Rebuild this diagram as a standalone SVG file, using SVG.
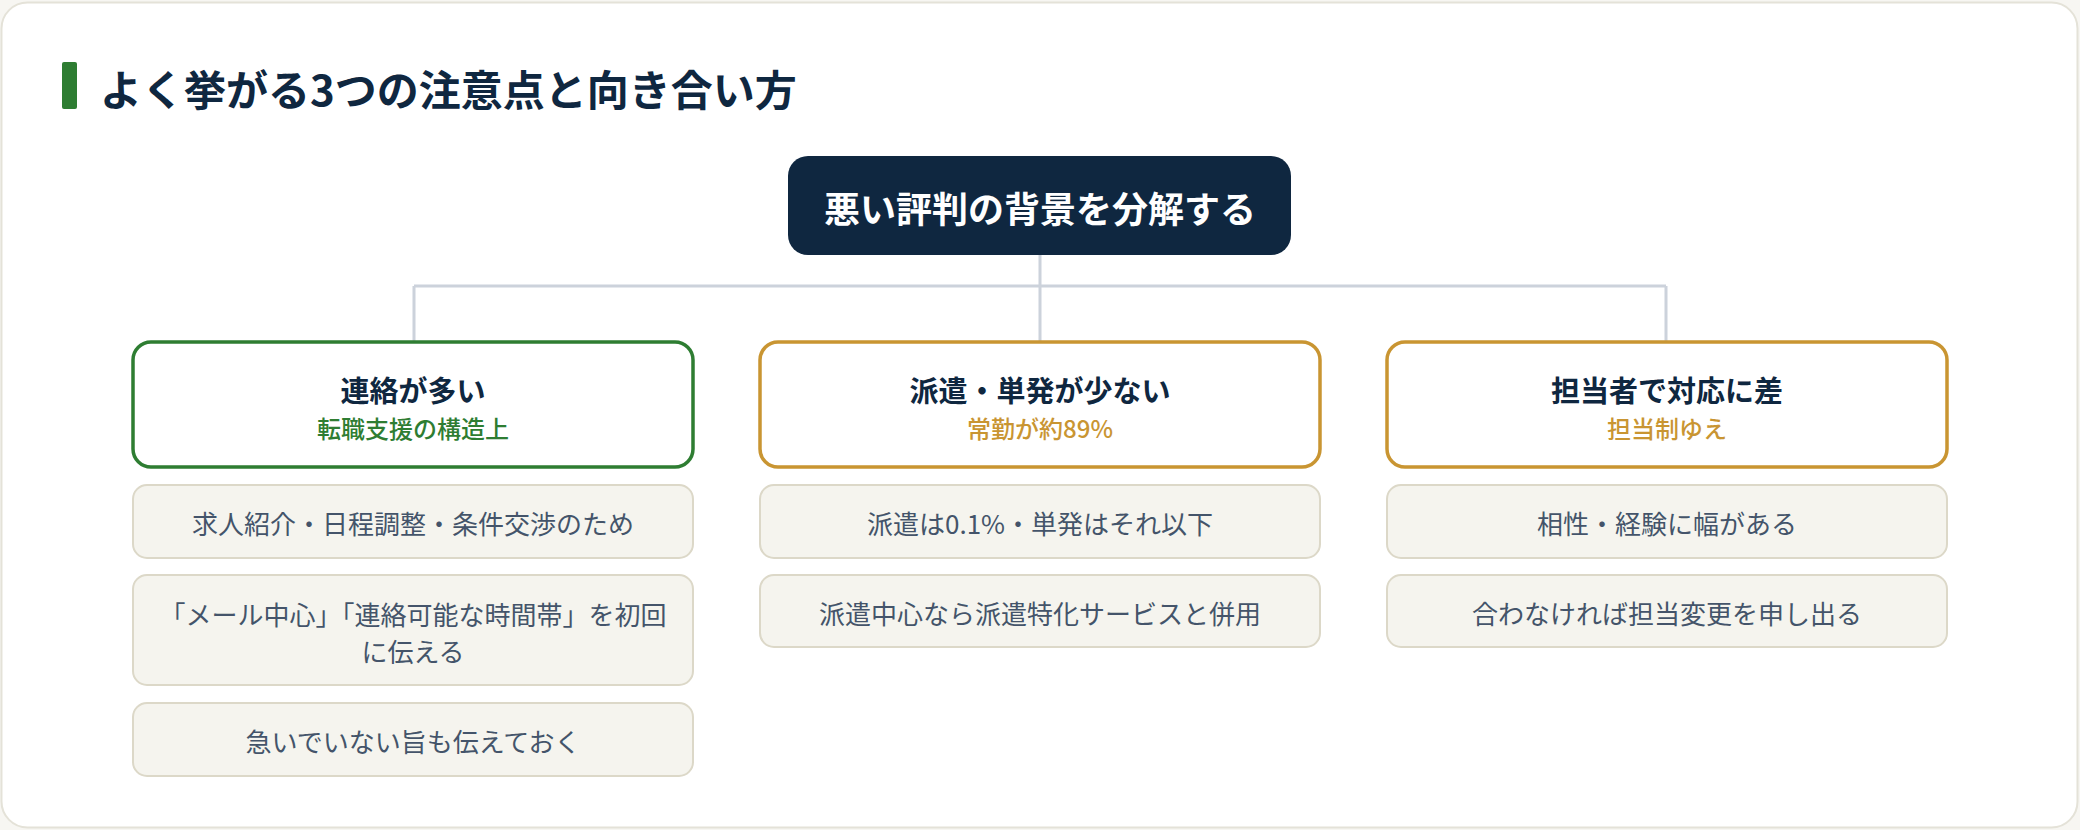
<svg xmlns="http://www.w3.org/2000/svg" width="2080" height="830" viewBox="0 0 2080 830">
  <style>
    text { font-family: "Noto Sans CJK JP", "Noto Sans", sans-serif; text-anchor: middle; dominant-baseline: central; }
    .title { font-size: 42px; font-weight: 700; fill: #0f2740; text-anchor: start; }
    .root { font-size: 36px; font-weight: 700; fill: #ffffff; }
    .head { font-size: 29px; font-weight: 700; fill: #0f2740; }
    .sub { font-size: 24px; font-weight: 500; }
    .item { font-size: 26px; font-weight: 400; fill: #44546a; }
    .itembox { fill: #f5f4ee; stroke: #dcd8c8; stroke-width: 2; }
    .headbox { fill: #ffffff; stroke-width: 3.5; }
    .conn { stroke: #ccd2db; stroke-width: 3; fill: none; }
  </style>
  <rect x="0" y="0" width="2080" height="830" fill="#f7f6f2"/>
  <rect x="1.5" y="2.5" width="2076" height="825" rx="26" fill="#ffffff" stroke="#e4e2d8" stroke-width="2"/>

  <g id="heading">
    <rect x="62" y="62" width="15" height="47" rx="2" fill="#2e7d32"/>
    <text class="title" x="100" y="87.5">よく挙がる3つの注意点と向き合い方</text>
  </g>

  <g id="connectors">
    <path class="conn" d="M1040 255 V286 M414 286 H1666 M414 286 V342 M1040 286 V342 M1666 286 V342"/>
  </g>

  <g id="root">
    <rect x="788" y="156" width="503" height="99" rx="20" fill="#0f2740"/>
    <text class="root" x="1040" y="207">悪い評判の背景を分解する</text>
  </g>

  <g id="col1-head">
    <rect class="headbox" x="133" y="342" width="560" height="125" rx="18" stroke="#2e7d32"/>
    <text class="head" x="413" y="389">連絡が多い</text>
    <text class="sub" x="413" y="427" fill="#2e7d32">転職支援の構造上</text>
  </g>
  <g id="col1-item1">
    <rect class="itembox" x="133" y="485" width="560" height="73" rx="14"/>
    <text class="item" x="413" y="522">求人紹介・日程調整・条件交渉のため</text>
  </g>
  <g id="col1-item2">
    <rect class="itembox" x="133" y="575" width="560" height="110" rx="14"/>
    <text class="item" x="413" y="613">「メール中心」「連絡可能な時間帯」を初回</text>
    <text class="item" x="413" y="650">に伝える</text>
  </g>
  <g id="col1-item3">
    <rect class="itembox" x="133" y="703" width="560" height="73" rx="14"/>
    <text class="item" x="413" y="740">急いでいない旨も伝えておく</text>
  </g>

  <g id="col2-head">
    <rect class="headbox" x="760" y="342" width="560" height="125" rx="18" stroke="#c99532"/>
    <text class="head" x="1040" y="389">派遣・単発が少ない</text>
    <text class="sub" x="1040" y="427" fill="#c99532">常勤が約89%</text>
  </g>
  <g id="col2-item1">
    <rect class="itembox" x="760" y="485" width="560" height="73" rx="14"/>
    <text class="item" x="1040" y="522">派遣は0.1%・単発はそれ以下</text>
  </g>
  <g id="col2-item2">
    <rect class="itembox" x="760" y="575" width="560" height="72" rx="14"/>
    <text class="item" x="1040" y="612">派遣中心なら派遣特化サービスと併用</text>
  </g>

  <g id="col3-head">
    <rect class="headbox" x="1387" y="342" width="560" height="125" rx="18" stroke="#c99532"/>
    <text class="head" x="1667" y="389">担当者で対応に差</text>
    <text class="sub" x="1667" y="427" fill="#c99532">担当制ゆえ</text>
  </g>
  <g id="col3-item1">
    <rect class="itembox" x="1387" y="485" width="560" height="73" rx="14"/>
    <text class="item" x="1667" y="522">相性・経験に幅がある</text>
  </g>
  <g id="col3-item2">
    <rect class="itembox" x="1387" y="575" width="560" height="72" rx="14"/>
    <text class="item" x="1667" y="612">合わなければ担当変更を申し出る</text>
  </g>
</svg>
